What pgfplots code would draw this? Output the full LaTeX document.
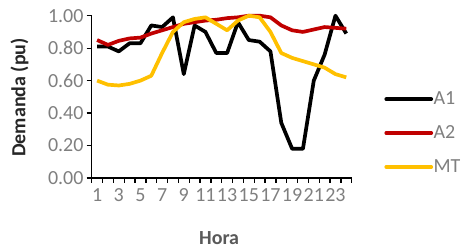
\documentclass[border=0pt]{standalone}
\usepackage{fontspec}
\setmainfont{Carlito}
\usepackage{pgfplots}
\pgfplotsset{compat=1.18}
\definecolor{cA1}{HTML}{000000}
\definecolor{cA2}{HTML}{C00000}
\definecolor{cMT}{HTML}{FFC000}
\definecolor{tickgray}{HTML}{7F7F7F}
\definecolor{labgray}{HTML}{595959}
\definecolor{ylabgray}{HTML}{262626}
\begin{document}
\begin{tikzpicture}
\useasboundingbox (-91.7pt,-70pt) rectangle (373.3pt,178pt);
\begin{axis}[
  at={(0pt,0pt)}, anchor=south west,
  scale only axis, width=260pt, height=162.3pt,
  xmin=0.5, xmax=24.5, ymin=0, ymax=1,
  clip=false,
  axis lines*=left,
  axis line style={line width=1.6pt, black},
  tick align=outside,
  major tick length=5pt,
  major tick style={line width=1.3pt, black},
  xtick={0.5,1.5,...,24.5},
  xticklabels={},
  extra x ticks={1,3,...,23},
  extra x tick labels={1,3,5,7,9,11,13,15,17,19,21,23},
  extra x tick style={major tick length=0pt},
  ytick={0,0.2,0.4,0.6,0.8,1.0},
  yticklabel style={/pgf/number format/fixed, /pgf/number format/fixed zerofill, /pgf/number format/precision=2},
  /pgf/number format/assume math mode=true,
  ticklabel style={font=\fontsize{20}{24}\selectfont, text=tickgray},
  xticklabel style={inner sep=1pt, yshift=-9pt},
  yticklabel style={inner sep=1pt, xshift=-2pt},
  xlabel={\textbf{Hora}},
  ylabel={\textbf{Demanda (pu)}},
  label style={font=\fontsize{20}{24}\selectfont, text=labgray},
  xlabel style={at={(axis description cs:0.49,-0.37)}, anchor=center},
  ylabel style={at={(axis description cs:-0.278,0.496)}, anchor=center, rotate=0, text=ylabgray},
  legend style={at={(axis description cs:1.125,0.277)}, anchor=west, draw=none, fill=none,
    inner sep=0pt, row sep=18.5pt, font=\fontsize{20}{24}\selectfont, text=tickgray,
    nodes={inner sep=0.5pt}},
  legend cell align=left,
  legend image code/.code={\draw[#1, line width=3.7pt, line cap=round] (2pt,0pt) -- (47pt,0pt);},
  every axis plot/.append style={line width=3.7pt, line join=round},
]
\addplot[cA1, mark=none] coordinates {
(1,0.81) (2,0.81) (3,0.78) (4,0.83) (5,0.83) (6,0.94) (7,0.93) (8,0.99)
(9,0.64) (10,0.94) (11,0.90) (12,0.77) (13,0.77) (14,0.96) (15,0.85) (16,0.84)
(17,0.78) (18,0.34) (19,0.18) (20,0.18) (21,0.60) (22,0.76) (23,1.00) (24,0.89)};
\addlegendentry{A1}
\addplot[cA2, mark=none] coordinates {
(1,0.85) (2,0.82) (3,0.845) (4,0.86) (5,0.865) (6,0.89) (7,0.91) (8,0.93)
(9,0.95) (10,0.96) (11,0.97) (12,0.975) (13,0.985) (14,0.99) (15,1.00) (16,1.00)
(17,0.99) (18,0.94) (19,0.91) (20,0.90) (21,0.915) (22,0.93) (23,0.925) (24,0.92)};
\addlegendentry{A2}
\addplot[cMT, mark=none] coordinates {
(1,0.60) (2,0.575) (3,0.57) (4,0.58) (5,0.60) (6,0.63) (7,0.77) (8,0.90)
(9,0.96) (10,0.98) (11,0.99) (12,0.95) (13,0.91) (14,0.97) (15,1.00) (16,0.99)
(17,0.90) (18,0.77) (19,0.74) (20,0.72) (21,0.70) (22,0.68) (23,0.64) (24,0.62)};
\addlegendentry{MT}
\end{axis}
\end{tikzpicture}
\end{document}
